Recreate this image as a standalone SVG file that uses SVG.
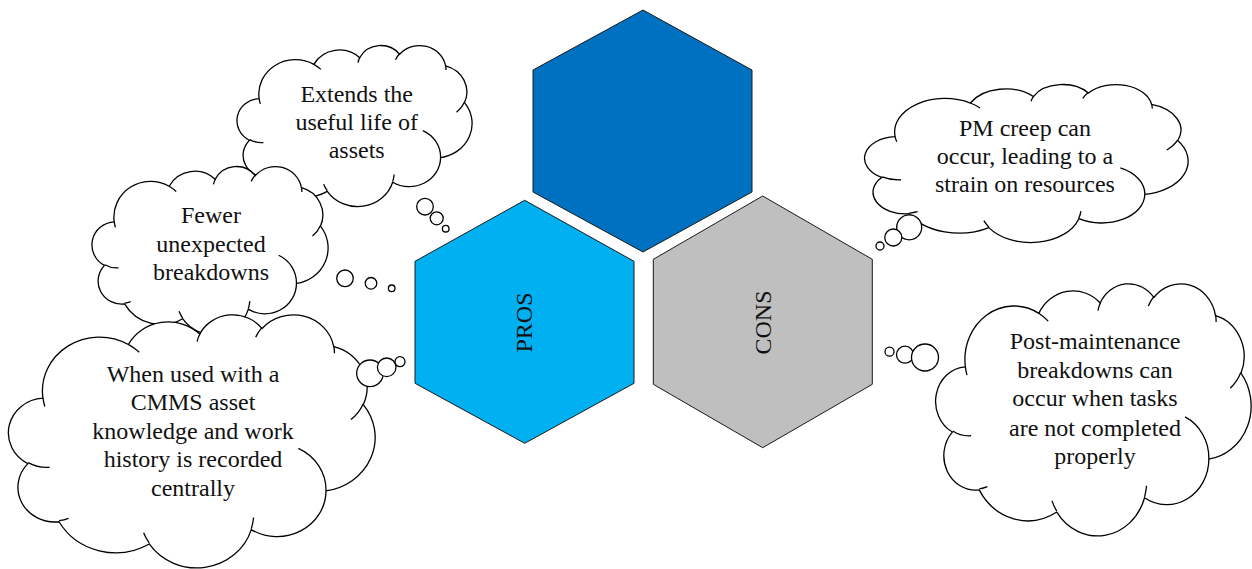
<svg xmlns="http://www.w3.org/2000/svg" width="1252" height="569" viewBox="0 0 1252 569">
  <style>
    .hex { stroke: #1a1a1a; stroke-width: 1; }
    .cloud { fill: #ffffff; stroke: #000000; stroke-width: 1.3; }
    .cloud-line { fill: none; stroke: #000000; stroke-width: 1.3; }
    .bubble { fill: #ffffff; stroke: #000000; stroke-width: 1.3; }
    .label { font-family: "Liberation Serif", "Times New Roman", serif; font-size: 24px; fill: #111111; text-anchor: middle; }
  </style>
  <defs>
    <!-- thought cloud outline in a 1000 x 1000 box -->
    <path id="cloud-outline" vector-effect="non-scaling-stroke"
          d="M90.3,332.6 A156.3,212.7 0 0 1 324.2,120.4 A123.5,168.2 0 0 1 519.8,79.4 A101,137.6 0 0 1 690.6,57.5 A112.4,152.7 0 0 1 887,129.1 A123.5,168.4 0 0 1 968,357.9 A156.8,213.4 0 0 1 865.8,699.1 A133.9,182.1 0 0 1 661,852.2 A156.3,213.3 0 0 1 381.5,908.9 A178.7,244.1 0 0 1 134.4,821.1 A100.9,137 0 0 1 48.9,591.5 A100.6,137.6 0 0 1 90.3,332.6 Z"/>
    <!-- short inner arcs where the puffs overlap -->
    <path id="cloud-inner" vector-effect="non-scaling-stroke"
          d="M108.6,606 A100.6,137.6 0 0 1 50,587.5 M160.4,807.9 A100.9,137 0 0 1 134.7,816.7 M381.4,904.9 A156.3,213.3 0 0 1 366,864.6 M667.3,804.4 A156.3,213.3 0 0 1 661.1,848.6 M790,531.3 A133.9,182.1 0 0 1 865.8,699.1 M967.6,355.4 A123.5,168.4 0 0 1 934,417.4 M887.1,125.6 A112.4,152.7 0 0 1 888.9,154.8 M673.1,91.5 A112.4,152.7 0 0 1 690.3,54.1 M512.5,109.3 A101,137.6 0 0 1 520.8,77.1 M324.1,120.2 A156.3,212.7 0 0 1 354.2,151.4 M95.5,365.5 A156.3,212.7 0 0 1 90.3,332.6"/>
  </defs>

  <!-- hexagons -->
  <g id="hex-top">
    <polygon class="hex" fill="#0070C0" points="643,10 752,70 752,192 643,252 533,192 533,70"/>
  </g>
  <g id="hex-pros">
    <polygon class="hex" fill="#00B0F0" points="524.7,200.3 634,261.3 634,383.3 524.7,443.3 415,383.3 415,261.3"/>
    <text class="label" transform="translate(532,322.5) rotate(-90)">PROS</text>
  </g>
  <g id="hex-cons">
    <polygon class="hex" fill="#BFBFBF" points="762.7,196 872.3,259.3 872.3,384.3 762.7,447.7 653.3,384.3 653.3,259.3"/>
    <text class="label" transform="translate(771,322.5) rotate(-90)">CONS</text>
  </g>

  <!-- pros clouds -->
  <g id="cloud-extends">
    <use href="#cloud-outline" class="cloud" transform="translate(238,45) scale(0.234,0.161)"/>
    <use href="#cloud-inner" class="cloud-line" transform="translate(238,45) scale(0.234,0.161)"/>
    <circle class="bubble" cx="425" cy="206.7" r="8.3"/>
    <circle class="bubble" cx="436.7" cy="218.3" r="6.5"/>
    <circle class="bubble" cx="445.7" cy="228.7" r="3.3"/>
    <text class="label" x="356.7" y="101.7">Extends the</text>
    <text class="label" x="356.7" y="130.3">useful life of</text>
    <text class="label" x="356.7" y="158.3">assets</text>
  </g>

  <g id="cloud-fewer">
    <use href="#cloud-outline" class="cloud" transform="translate(93,166) scale(0.235,0.168)"/>
    <use href="#cloud-inner" class="cloud-line" transform="translate(93,166) scale(0.235,0.168)"/>
    <circle class="bubble" cx="345" cy="278.3" r="8.3"/>
    <circle class="bubble" cx="371" cy="283.3" r="5.8"/>
    <circle class="bubble" cx="391.7" cy="288.3" r="3.3"/>
    <text class="label" x="211" y="223.3">Fewer</text>
    <text class="label" x="211" y="252">unexpected</text>
    <text class="label" x="211" y="280">breakdowns</text>
  </g>

  <g id="cloud-cmms">
    <use href="#cloud-outline" class="cloud" transform="translate(10,314) scale(0.365,0.253)"/>
    <use href="#cloud-inner" class="cloud-line" transform="translate(10,314) scale(0.365,0.253)"/>
    <circle class="bubble" cx="370" cy="373.3" r="13.3"/>
    <circle class="bubble" cx="386.7" cy="367.3" r="9.3"/>
    <circle class="bubble" cx="400" cy="361.7" r="5"/>
    <text class="label" x="193" y="381.7">When used with a</text>
    <text class="label" x="193" y="410">CMMS asset</text>
    <text class="label" x="193" y="438.8">knowledge and work</text>
    <text class="label" x="193" y="467.3">history is recorded</text>
    <text class="label" x="193" y="495.7">centrally</text>
  </g>

  <!-- cons clouds -->
  <g id="cloud-creep">
    <use href="#cloud-outline" class="cloud" transform="translate(866,84) scale(0.322,0.158)"/>
    <use href="#cloud-inner" class="cloud-line" transform="translate(866,84) scale(0.322,0.158)"/>
    <circle class="bubble" cx="909.2" cy="227.3" r="12.5"/>
    <circle class="bubble" cx="893.3" cy="237.5" r="8.5"/>
    <circle class="bubble" cx="880" cy="246" r="4"/>
    <text class="label" x="1025" y="135.5">PM creep can</text>
    <text class="label" x="1025" y="163.5">occur, leading to a</text>
    <text class="label" x="1025" y="191.5">strain on resources</text>
  </g>

  <g id="cloud-post">
    <use href="#cloud-outline" class="cloud" transform="translate(937,283) scale(0.314,0.252)"/>
    <use href="#cloud-inner" class="cloud-line" transform="translate(937,283) scale(0.314,0.252)"/>
    <circle class="bubble" cx="889.5" cy="351.7" r="4.5"/>
    <circle class="bubble" cx="905" cy="354.7" r="8.5"/>
    <circle class="bubble" cx="925" cy="357.5" r="13.5"/>
    <text class="label" x="1095" y="348.5">Post-maintenance</text>
    <text class="label" x="1095" y="377.5">breakdowns can</text>
    <text class="label" x="1095" y="406">occur when tasks</text>
    <text class="label" x="1095" y="435.5">are not completed</text>
    <text class="label" x="1095" y="464">properly</text>
  </g>
</svg>
